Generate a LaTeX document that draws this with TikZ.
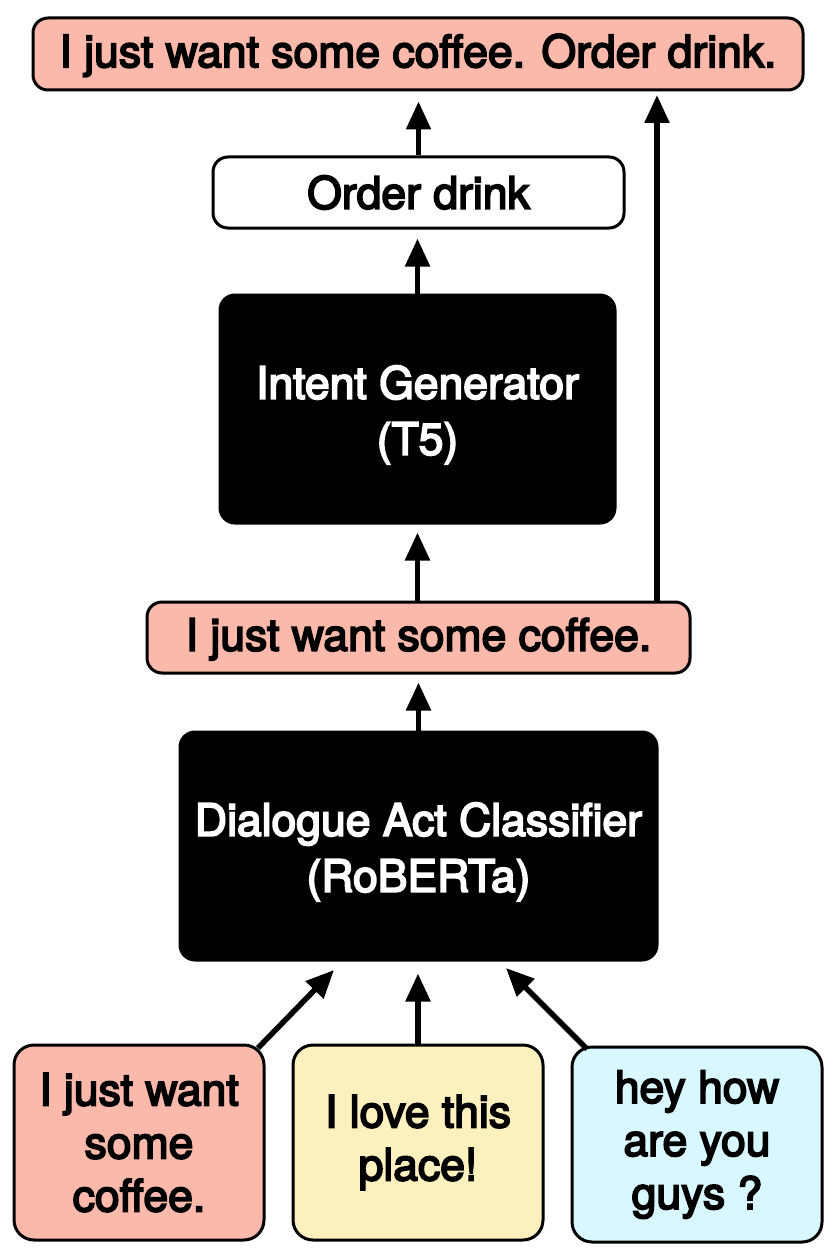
\documentclass[tikz,border=0pt]{standalone}
\usepackage{fontspec}
\setmainfont{TeX Gyre Heros}[FakeBold=4]
\usetikzlibrary{arrows.meta}
\definecolor{salmon}{HTML}{FBB9AB}
\definecolor{pyellow}{HTML}{FCF1BE}
\definecolor{pcyan}{HTML}{D8F7FE}
\newcommand{\dropstrut}{\rule{0pt}{45pt}}
\tikzset{
  box/.style={draw=black, line width=3pt, rounded corners=15pt, align=center,
    font=\fontsize{44.5}{56}\selectfont, inner sep=0pt},
  blackbox/.style={box, fill=black, text=white},
  card/.style={box, rounded corners=20pt, minimum width=250pt, minimum height=195pt,
    font=\fontsize{44.5}{53}\selectfont},
  arr/.style={line width=5.5pt, -{Triangle[length=28pt,width=24pt]}}
}
\begin{document}
\begin{tikzpicture}[x=1pt,y=-1pt]
\useasboundingbox (0,0) rectangle (840,1260);
\node[box, fill=salmon, minimum width=770pt, minimum height=72pt] (top) at (418,54) {\rule{0pt}{36pt}I just want some coffee. Order drink.};
\node[box, fill=white, minimum width=411pt, minimum height=71pt] (od) at (418.5,192.5) {Order drink};
\node[blackbox, minimum width=395pt, minimum height=228pt] (ig) at (417.5,409) {\dropstrut Intent Generator\\(T5)};
\node[box, fill=salmon, minimum width=543pt, minimum height=71pt] (mid) at (418.5,637.5) {\rule{0pt}{36pt}I just want some coffee.};
\node[blackbox, minimum width=477pt, minimum height=228pt] (dac) at (418.5,846) {\dropstrut Dialogue Act Classifier\\(RoBERTa)};
\node[card, fill=salmon] (b1) at (139,1142.5) {I just want\\some\\coffee.};
\node[card, fill=pyellow] (b2) at (418,1142.5) {I love this\\place!};
\node[card, fill=pcyan] (b3) at (697,1144.5) {hey how\\are you\\guys ?};
\coordinate (rs) at (657,602);
\coordinate (re) at (657,95);
\coordinate (l1) at (258,1048);
\coordinate (l2) at (334,970);
\coordinate (r1) at (587,1049);
\coordinate (r2) at (506,968);
\draw[arr] (od.north) -- ([yshift=-10pt]top.south -| od.north);
\draw[arr] (ig.north) -- ([yshift=-9pt]od.south -| ig.north);
\draw[arr] (mid.north -| ig.south) -- ([yshift=-8pt]ig.south);
\draw[arr] (rs) -- (re);
\draw[arr] (dac.north) -- ([yshift=-8pt]mid.south -| dac.north);
\draw[arr] (l1) -- (l2);
\draw[arr] (b2.north) -- ([yshift=-12pt]dac.south -| b2.north);
\draw[arr] (r1) -- (r2);
\end{tikzpicture}
\end{document}
